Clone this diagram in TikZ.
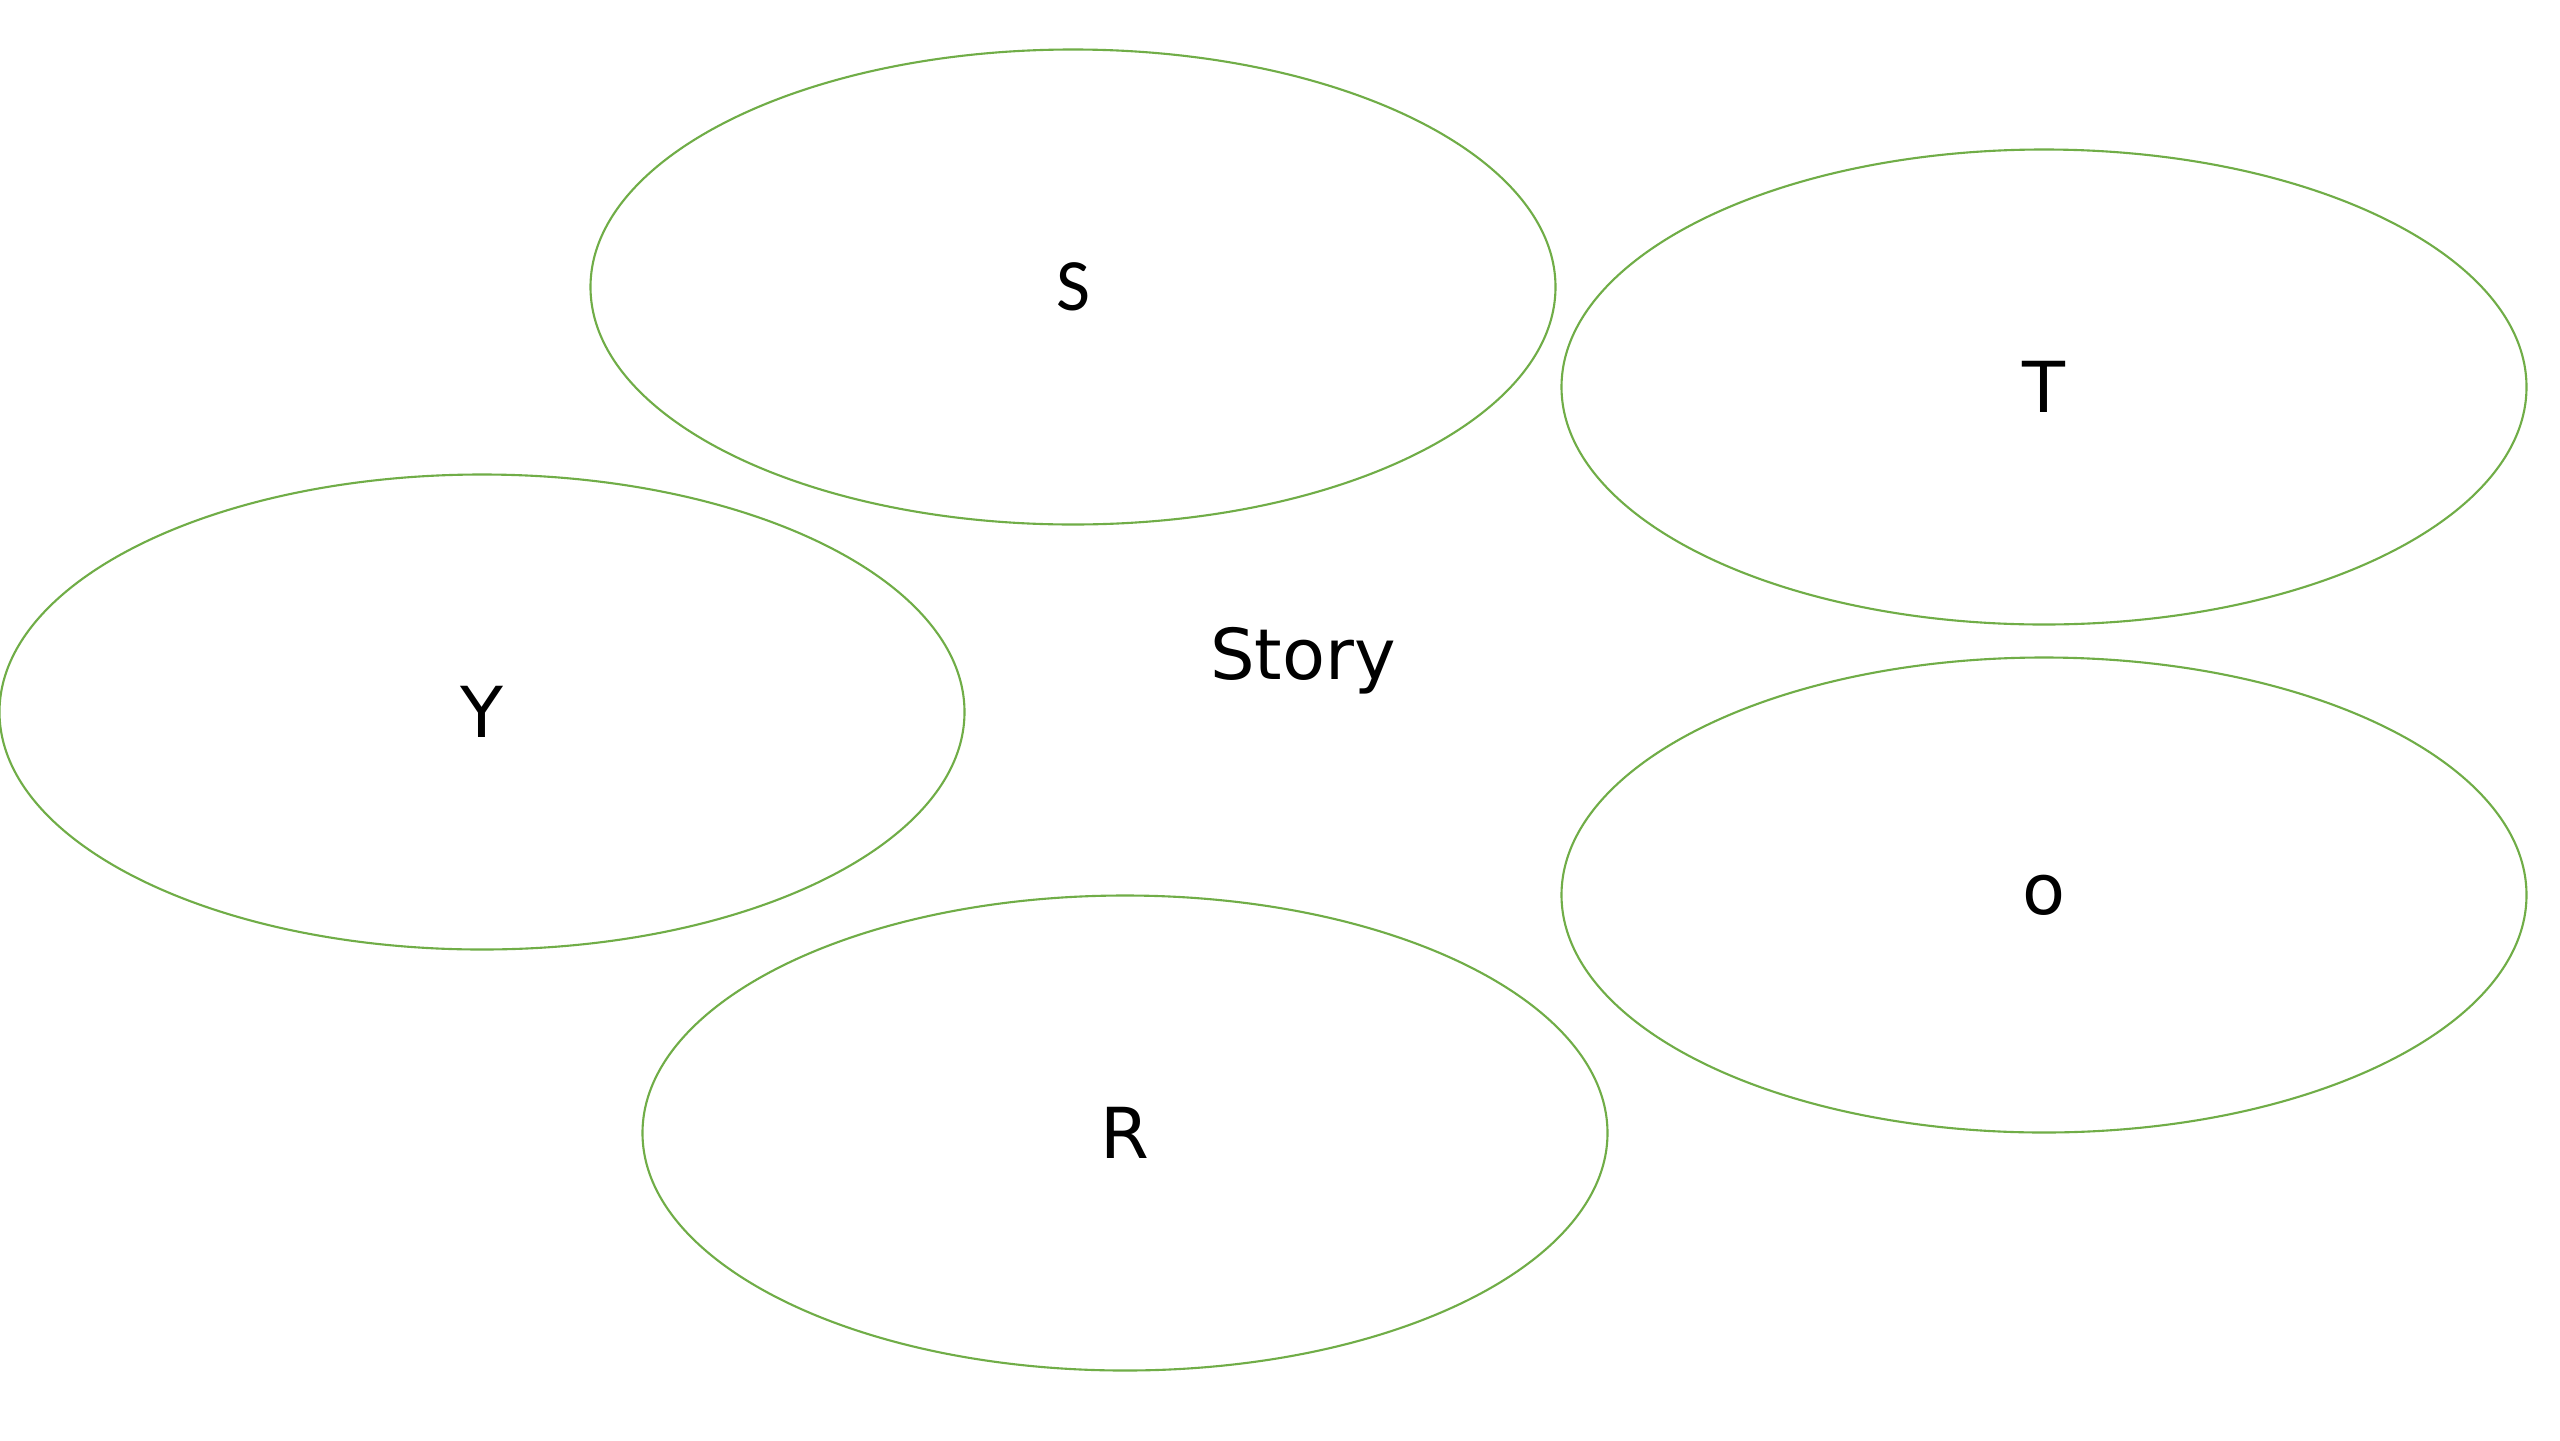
\documentclass[tikz,border=0pt]{standalone}
\usepackage{fontspec}
\setmainfont{Carlito}
\newfontfamily\comicish{DejaVu Sans}
\usetikzlibrary{shapes.geometric}
\definecolor{petal}{HTML}{70AD47}
\begin{document}
\begin{tikzpicture}[x=1cm,y=-1cm,
  petalnode/.style={ellipse,draw=petal,line width=0.6pt,minimum width=9.65cm,minimum height=4.75cm,inner sep=0pt,font=\fontsize{21}{25}\selectfont},
  comicnode/.style={petalnode,font=\comicish\fontsize{20}{24}\selectfont},
  centre/.style={font=\comicish\fontsize{20}{24}\selectfont}]
\path[use as bounding box,fill=white] (0,0) rectangle (25.6,14.4);
\node[petalnode] (s) at (10.73,2.87) {S};
\node[comicnode] (t) at (20.44,3.87) {T};
\node[comicnode] (y) at (4.82,7.12) {Y};
\node[comicnode] (o) at (20.44,8.95) {o};
\node[comicnode] (r) at (11.25,11.33) {R};
\node[centre] (story) at (13.03,6.61) {Story};
\end{tikzpicture}
\end{document}
